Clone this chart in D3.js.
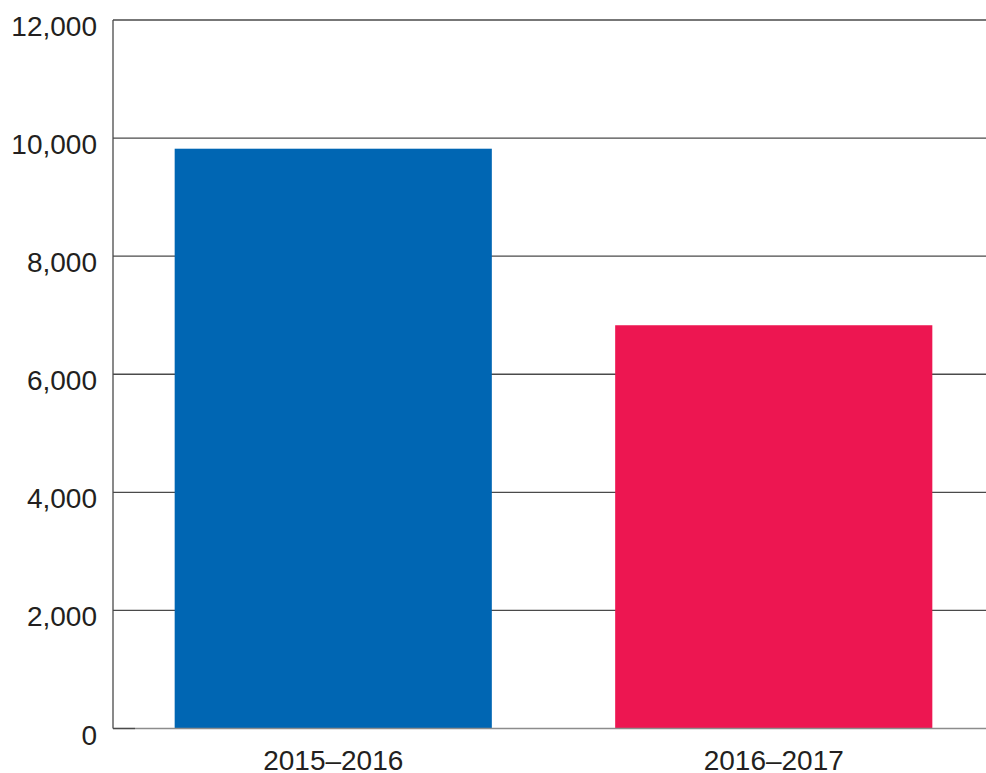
<!DOCTYPE html>
<html>
<head>
<meta charset="utf-8">
<script src="https://cdn.jsdelivr.net/npm/d3@7"></script>
<style>
  body { margin: 0; background: #fff; }
  text { font-family: "Liberation Sans", Arial, sans-serif; fill: #231f20; }
</style>
</head>
<body>
<svg id="chart" width="986" height="773"></svg>
<script>
// data
const periods = ['2015–2016', '2016–2017'];
const counts = [9820, 6830];
const barColors = ['#0066b3', '#ed1651'];
const yTicks = [0, 2000, 4000, 6000, 8000, 10000, 12000];

let svg = d3.select('#chart');
let plotLeft = 113, plotRight = 994, plotTop = 20, plotBottom = 728.5;

let xScale = d3.scaleBand()
    .domain(periods)
    .range([plotLeft, plotRight])
    .paddingInner(0.28)
    .paddingOuter(0.14);

let yScale = d3.scaleLinear()
    .domain([0, 12000])
    .range([plotBottom, plotTop]);

// gridlines (not the zero line)
svg.selectAll('.grid')
    .data(yTicks.filter(function (d) {return d > 0;}))
    .enter()
    .append('line')
    .attr('class', 'grid')
    .attr('x1', plotLeft)
    .attr('x2', 986)
    .attr('y1', function (d) {return yScale(d);})
    .attr('y2', function (d) {return yScale(d);})
    .style('stroke', '#4a4a4a')
    .style('stroke-width', 1.3);

// bars
svg.selectAll('.bars')
    .data(counts)
    .enter()
    .append('rect')
    .attr('class', 'bars')
    .attr('x', function (d, i) {return xScale(periods[i]);})
    .attr('y', function (d) {return yScale(d);})
    .attr('width', xScale.bandwidth())
    .attr('height', function (d) {return yScale(0) - yScale(d);})
    .style('fill', function (d, i) {return barColors[i];});

// baseline
svg.append('line')
    .attr('x1', plotLeft).attr('x2', 986)
    .attr('y1', yScale(0)).attr('y2', yScale(0))
    .style('stroke', '#8c8c8c')
    .style('stroke-width', 1.3);
svg.append('line')
    .attr('x1', plotLeft).attr('x2', plotLeft + 22)
    .attr('y1', yScale(0)).attr('y2', yScale(0))
    .style('stroke', '#4a4a4a')
    .style('stroke-width', 1.3);

// left axis line
svg.append('line')
    .attr('x1', plotLeft).attr('x2', plotLeft)
    .attr('y1', plotTop).attr('y2', yScale(0))
    .style('stroke', '#4a4a4a')
    .style('stroke-width', 1.3);

// y tick labels
svg.selectAll('.ylab')
    .data(yTicks)
    .enter()
    .append('text')
    .attr('class', 'ylab')
    .attr('x', 97)
    .attr('y', function (d) {return yScale(d) + 16;})
    .attr('text-anchor', 'end')
    .style('font-size', '28px')
    .text(function (d) {return d3.format(',')(d);});

// x labels
svg.selectAll('.xlab')
    .data(periods)
    .enter()
    .append('text')
    .attr('class', 'xlab')
    .attr('x', function (d) {return xScale(d) + xScale.bandwidth() / 2;})
    .attr('y', 770)
    .attr('text-anchor', 'middle')
    .style('font-size', '28px')
    .text(function (d) {return d;});
</script>
</body>
</html>
